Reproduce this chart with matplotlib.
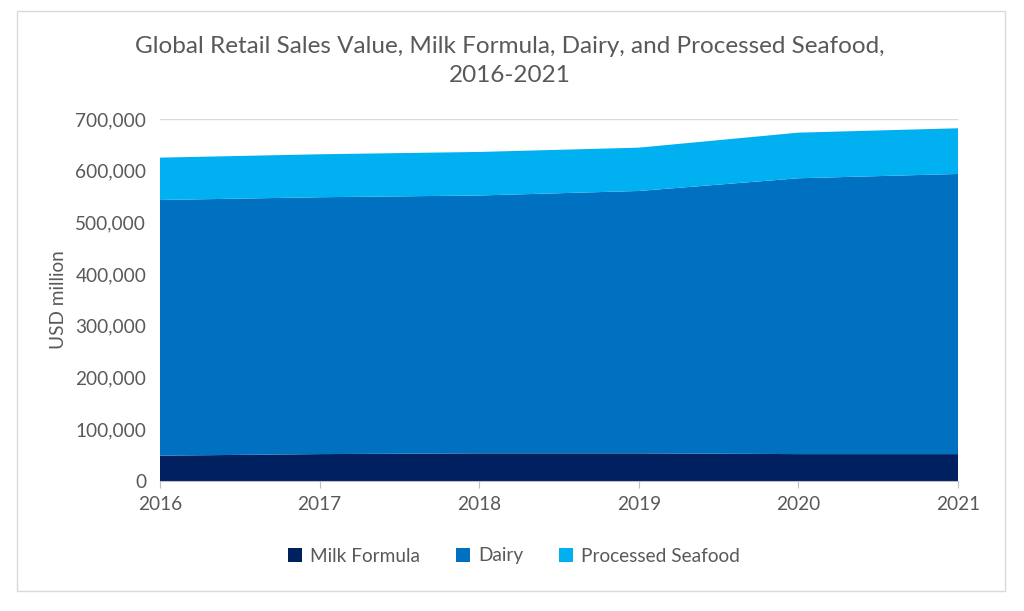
import matplotlib
matplotlib.use('Agg')
import matplotlib.pyplot as plt
import matplotlib.patches as patches
from matplotlib.ticker import FuncFormatter

years = [2016, 2017, 2018, 2019, 2020, 2021]
milk_formula = [49000, 52000, 53500, 53500, 52000, 52000]
dairy = [494400, 496700, 498600, 507300, 533400, 541700]
processed_seafood = [81900, 83100, 84200, 83800, 88200, 88400]
series_names = ['Milk Formula', 'Dairy', 'Processed Seafood']
colors = ['#002060', '#0070C0', '#00B0F0']

plt.rcParams['font.family'] = ['Lato', 'DejaVu Sans']
text_color = '#595959'

fig = plt.figure(figsize=(10.24, 6.11), dpi=100)
ax = fig.add_axes([160 / 1024, 1 - 481 / 611, (958 - 160) / 1024, (481 - 119) / 611])

# outer chart border
fig.patches.append(patches.Rectangle((17 / 1024, 1 - 591 / 611), (1005 - 17) / 1024, (591 - 11) / 611,
                                     transform=fig.transFigure, fill=False,
                                     edgecolor='#D9D9D9', linewidth=1))

ax.stackplot(years, milk_formula, dairy, processed_seafood, labels=series_names,
             colors=colors, linewidth=0, zorder=2)

ax.set_xlim(2016, 2021)
ax.set_ylim(0, 700000)
ax.set_yticks(range(0, 700001, 100000))
ax.yaxis.set_major_formatter(FuncFormatter(lambda v, p: f'{int(v):,}'))
ax.set_xticks(years)
ax.grid(axis='y', color='#D9D9D9', linewidth=1, zorder=0)
ax.set_axisbelow(True)

for s in ['top', 'right', 'left']:
    ax.spines[s].set_visible(False)
ax.spines['bottom'].set_color('#BFBFBF')
ax.tick_params(axis='y', length=0, pad=10, labelsize=13.7, labelcolor=text_color)
ax.tick_params(axis='x', length=5, color='#BFBFBF', pad=6, labelsize=13.7, labelcolor=text_color)
ax.set_ylabel('USD million', fontsize=13.7, color=text_color, labelpad=6)

fig.text(510 / 1024, 1 - 61 / 611, 'Global Retail Sales Value, Milk Formula, Dairy, and Processed Seafood,\n2016-2021',
         ha='center', va='center', fontsize=17.5, color=text_color, linespacing=1.45)

fig.legend(loc='center', bbox_to_anchor=(514 / 1024, 1 - 556 / 611), ncol=3, frameon=False,
           fontsize=13.7, labelcolor=text_color, handlelength=0.75, handleheight=0.75,
           handletextpad=0.4, columnspacing=1.9)

fig.savefig('out.png', dpi=100, facecolor='white')
